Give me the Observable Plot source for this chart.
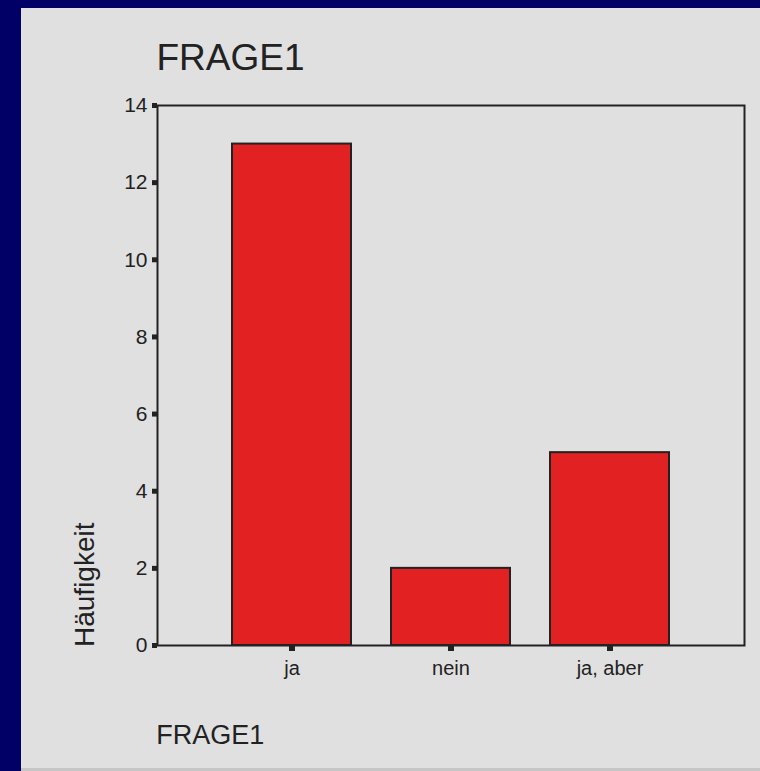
<!DOCTYPE html>
<html>
<head>
<meta charset="utf-8">
<script src="https://cdn.jsdelivr.net/npm/d3@7"></script>
<script src="https://cdn.jsdelivr.net/npm/@observablehq/plot@0.6"></script>
<style>
  html, body { margin: 0; padding: 0; }
  body { width: 760px; height: 771px; background: #000066; position: relative; overflow: hidden;
         font-family: "Liberation Sans", Arial, sans-serif; color: #222; }
  #panel { position: absolute; left: 21px; top: 8px; width: 739px; height: 760px;
           background: #e0e0e0; border-bottom: 3px solid #c6c6c6; }
  .t { position: absolute; white-space: nowrap; line-height: 1; margin: 0; font-weight: normal; }
  #title { left: 135.5px; top: 31.4px; font-size: 37px; }
  #xlabel { left: 135.2px; top: 714.2px; font-size: 27px; }
  #ylabel { left: 49.6px; top: 639.2px; font-size: 28px; transform-origin: 0 0; transform: rotate(-90deg); }
  #chart { position: absolute; left: 0; top: 0; }
</style>
</head>
<body>
<div id="panel">
  <div class="t" id="title">FRAGE1</div>
  <div id="chart"></div>
  <div class="t" id="ylabel">Häufigkeit</div>
  <div class="t" id="xlabel">FRAGE1</div>
</div>
<script>
const categories = ["ja", "nein", "ja, aber"];
const counts = [13, 2, 5];
const yTicks = [0, 2, 4, 6, 8, 10, 12, 14];

const data = categories.map((c, i) => ({cat: c, count: counts[i]}));

const chart = Plot.plot({
  width: 739,
  height: 680,
  marginLeft: 136,
  marginRight: 16,
  marginTop: 97,
  marginBottom: 43,
  style: {background: "transparent", fontFamily: "'Liberation Sans', Arial, sans-serif", color: "#222"},
  x: {domain: categories, paddingInner: 0.254, paddingOuter: 0.468, label: null},
  y: {domain: [0, 14], ticks: yTicks, label: null},
  marks: [
    Plot.barY(data, {x: "cat", y: "count", fill: "#e12122", stroke: "#222", strokeWidth: 2}),
    Plot.frame({stroke: "#222", strokeWidth: 2}),
    Plot.axisY({ticks: yTicks, tickSize: 5, strokeWidth: 5, tickPadding: 5, fontSize: 21, label: null}),
    Plot.axisX({tickSize: 6, strokeWidth: 6, tickPadding: 9, fontSize: 20, label: null})
  ]
});
document.getElementById("chart").appendChild(chart);
</script>
</body>
</html>
